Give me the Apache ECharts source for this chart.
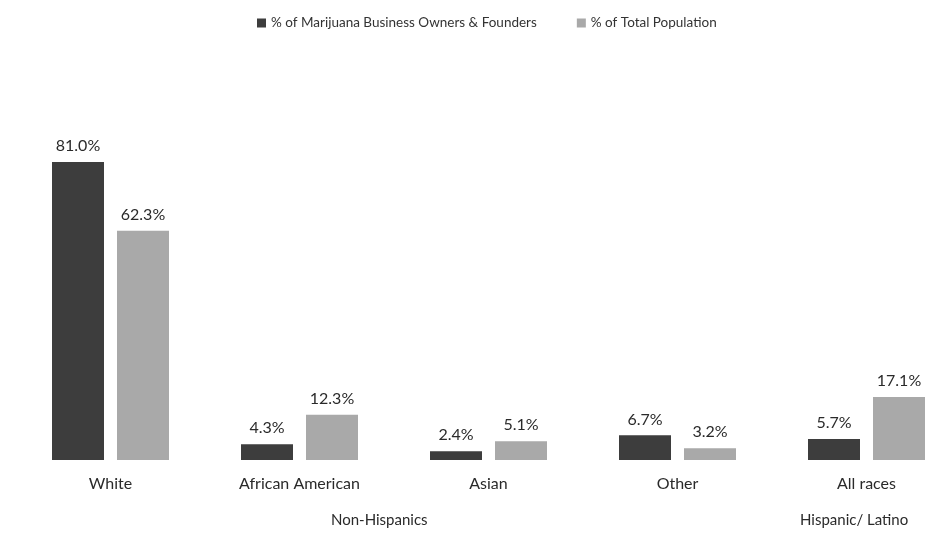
<!DOCTYPE html>
<html><head><meta charset="utf-8">
<script src="https://cdn.jsdelivr.net/npm/echarts@6/dist/echarts.min.js"></script>
<style>html,body{margin:0;padding:0;background:#fff;overflow:hidden}#c{width:962px;height:535px}</style>
</head><body><div id="c"></div>
<script>
const categories = ['White', 'African American', 'Asian', 'Other', 'All races'];
const ownersPct = [81.0, 4.3, 2.4, 6.7, 5.7];
const populationPct = [62.3, 12.3, 5.1, 3.2, 17.1];
const seriesNames = ['% of Marijuana Business Owners & Founders', '% of Total Population'];
const groupLabels = ['Non-Hispanics', 'Hispanic/ Latino'];

const chart = echarts.init(document.getElementById('c'), null, {renderer: 'canvas'});
const font = 'Lato, "Open Sans", sans-serif';
const lbl = {show: true, position: 'top', distance: 8, fontFamily: font, fontSize: 16, color: '#2a2a2a',
  formatter: p => p.value.toFixed(1) + '%'};
chart.setOption({
  animation: false,
  backgroundColor: '#fff',
  textStyle: {fontFamily: font},
  legend: {top: 11, left: 252, itemWidth: 9, itemHeight: 9, itemGap: 40, icon: 'rect',
    textStyle: {fontFamily: font, fontSize: 13.5, color: '#333'}},
  grid: {left: 16, width: 945, top: 92, bottom: 75},
  xAxis: {type: 'category', data: categories, axisLine: {show: false}, axisTick: {show: false},
    axisLabel: {fontFamily: font, fontSize: 16, color: '#2a2a2a', margin: 16}},
  yAxis: {type: 'value', min: 0, max: 100, show: false},
  series: [
    {name: seriesNames[0], type: 'bar', data: ownersPct, barWidth: 52, barGap: '25%',
      itemStyle: {color: '#3d3d3d'}, label: lbl},
    {name: seriesNames[1], type: 'bar', data: populationPct, barWidth: 52,
      itemStyle: {color: '#a9a9a9'}, label: lbl}
  ]
});
chart.setOption({graphic: [
  {type: 'text', left: 331, top: 513, style: {text: groupLabels[0], font: '15px ' + font, fill: '#2a2a2a'}},
  {type: 'text', left: 800, top: 513, style: {text: groupLabels[1], font: '15px ' + font, fill: '#2a2a2a'}}
]});
</script></body></html>
